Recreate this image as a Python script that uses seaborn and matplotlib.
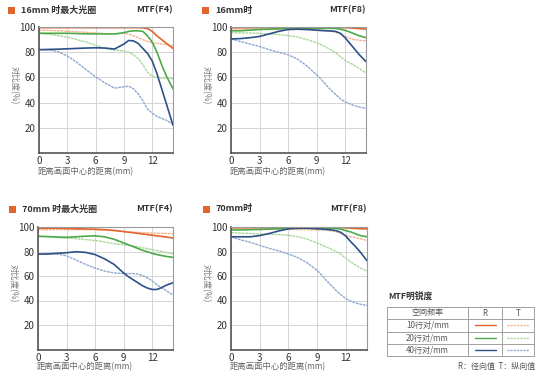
import matplotlib
matplotlib.use("Agg")
import matplotlib.pyplot as plt
import seaborn as sns
import pandas as pd
from matplotlib.patches import Rectangle

sns.set_theme(style="white")
plt.rcParams['font.family'] = ['Noto Sans CJK SC', 'DejaVu Sans']

# ---------------- data ----------------
X = [0, 1, 2, 3, 4, 5, 6, 7, 8, 9, 9.5, 10, 10.5, 11, 11.5, 12, 12.5, 13, 13.5, 14.2]

p1_r10 = [99.5, 99.5, 99.5, 99.5, 99.5, 99.5, 99.5, 99.5, 99.5, 99.5, 99.5, 99.5, 99.5, 99.3, 98.8, 96.5, 93, 90, 87, 83]
p1_t10 = [97.5, 97.3, 97, 96.6, 96.2, 95.8, 95.3, 94.8, 94.5, 95, 94.5, 93, 91.5, 90, 88.5, 87.5, 87, 86.5, 86, 85]
p1_r20 = [95, 95, 95, 95, 94.8, 94.6, 94.5, 94.5, 94.5, 95.5, 96.5, 97, 97, 96.5, 93, 88, 80, 70, 61, 51]
p1_t20 = [95, 94.3, 93.3, 92, 90, 88, 85.5, 83, 81.7, 81, 80, 78, 75, 70, 64, 61, 60, 59.5, 59.5, 59]
p1_r40 = [82, 82.2, 82.4, 82.7, 83, 83.3, 83.5, 83.3, 82.5, 86.5, 89.3, 89, 87, 83, 79, 73, 63, 51, 39, 22]
p1_t40 = [82, 81.8, 80.5, 77, 72, 66, 60.5, 55.5, 51.5, 52.5, 53, 51, 47, 41.5, 35, 31.5, 29, 27.5, 26, 23]

p2_r10 = [99.5, 99.5, 99.5, 99.5, 99.5, 99.5, 99.5, 99.5, 99.5, 99.5, 99.5, 99.5, 99.5, 99.5, 99.5, 99.5, 99.3, 99, 98.7, 98.3]
p2_t10 = [98.5, 98.5, 98.3, 98.2, 98, 98, 98, 98, 98, 97.8, 97.5, 97.2, 96.8, 96, 94.5, 92.5, 91, 90, 89.5, 89]
p2_r20 = [97, 97, 97.5, 98, 98.3, 98.6, 99, 99, 99, 99, 99, 99, 99, 98.8, 98.3, 97.3, 96, 94.5, 93, 91.5]
p2_t20 = [95.5, 95.3, 95.2, 95, 94.5, 94, 93.2, 92, 90, 87.5, 86, 84, 82, 79.5, 76.5, 73.5, 71.5, 69.5, 67, 63.5]
p2_r40 = [90.5, 90.8, 91.5, 92.5, 94.5, 96.5, 98, 98.3, 98, 97.5, 97.2, 97, 96.8, 96.5, 95, 91.5, 87, 82.5, 78, 72.5]
p2_t40 = [90.5, 88.5, 86.5, 84.5, 82, 80, 78, 74.5, 69, 62, 58.5, 54, 50, 46.5, 43, 40.5, 39, 37.5, 36.5, 35.5]

p3_r10 = [99, 99, 99, 98.8, 98.6, 98.4, 98.2, 97.8, 97.2, 96.3, 95.8, 95.3, 94.8, 94.3, 93.8, 93.3, 92.8, 92.3, 91.8, 91]
p3_t10 = [97.8, 97.8, 97.8, 97.8, 97.8, 97.8, 97.7, 97.4, 97, 96.3, 96, 95.8, 95.6, 95.4, 95.2, 95, 94.9, 94.8, 94.7, 94.5]
p3_r20 = [92.4, 92.2, 91.8, 91.6, 92, 92.5, 92.8, 92, 90, 87, 85.5, 84, 82.5, 81, 79.8, 78.5, 77.5, 76.7, 76, 75.2]
p3_t20 = [92.4, 92, 91.5, 91, 90.5, 89.8, 89, 87.8, 86.3, 85.5, 85, 84.5, 84, 83, 82.3, 81.5, 80.7, 80, 79.2, 78]
p3_r40 = [77.8, 78, 78.5, 79, 79.8, 79.3, 77.5, 74, 69.5, 62.5, 59.5, 57, 54.5, 52, 50.2, 49, 49, 50.5, 52.5, 54.5]
p3_t40 = [77.8, 78, 78, 76.5, 73, 69.5, 66.5, 64, 62.5, 62, 62, 62, 61.5, 60.5, 58.5, 56, 53, 50.5, 48, 44.5]

p4_r10 = [99.5, 99.5, 99.5, 99.5, 99.5, 99.5, 99.5, 99.5, 99.5, 99.5, 99.5, 99.5, 99.5, 99.5, 99.4, 99.3, 99, 98.8, 98.6, 98.5]
p4_t10 = [98.5, 98.5, 98.4, 98.3, 98.2, 98.1, 98, 98, 97.9, 97.7, 97.5, 97.3, 96.8, 96, 94.7, 93, 92, 91.3, 90.5, 89]
p4_r20 = [97.5, 97.6, 97.8, 98, 98.3, 98.6, 99, 99, 99, 99, 99, 99, 99, 98.8, 98.2, 97, 96, 94.5, 93, 92]
p4_t20 = [95.5, 95, 94.7, 94.3, 94, 93.8, 93.3, 92, 90, 86.8, 85.3, 83.5, 81.8, 80, 77.5, 74.5, 71.5, 69, 66.5, 64]
p4_r40 = [92, 92, 92, 93, 94.7, 96.8, 98.5, 99, 99, 98.5, 98.3, 98, 97.6, 97, 95.5, 92.5, 88, 84, 79.5, 72.5]
p4_t40 = [92, 89.5, 87.5, 85, 82.5, 80.5, 78, 75, 70.5, 64.5, 60.5, 56, 52, 48, 44.5, 41.5, 39.5, 38, 37, 36]

titles = ["16mm 时最大光圈", "16mm时", "70mm 时最大光圈", "70mm时"]
apertures = ["MTF(F4)", "MTF(F8)", "MTF(F4)", "MTF(F8)"]
x_ticks = [0, 3, 6, 9, 12]
y_ticks = [20, 40, 60, 80, 100]
freq_labels = ["10行对/mm", "20行对/mm", "40行对/mm"]
xlabel = "距离画面中心的距离(mm)"
ylabel = "对比度(%)"
legend_title = "MTF明锐度"
header = ["空间频率", "R", "T"]
footnote = "R：径向值  T：纵向值"

# ---------------- style ----------------
R_COLORS = ["#e2652e", "#4daa4a", "#2d5088"]
T_COLORS = ["#f2b48e", "#a9d79a", "#8fa9d0"]
T_DASH = (0, (2.0, 0.6))

W, H = 540, 372
fig = plt.figure(figsize=(W / 100, H / 100), dpi=100)

# axes boxes in pixel coords: left, top, right, bottom
boxes = [(39, 27, 173, 153), (231, 27, 366, 153),
         (38, 227, 173, 349.5), (231, 227, 367, 349.5)]
xlabel_y = [172, 172, 366.5, 366.5]
panels = [
    (p1_r10, p1_t10, p1_r20, p1_t20, p1_r40, p1_t40),
    (p2_r10, p2_t10, p2_r20, p2_t20, p2_r40, p2_t40),
    (p3_r10, p3_t10, p3_r20, p3_t20, p3_r40, p3_t40),
    (p4_r10, p4_t10, p4_r20, p4_t20, p4_r40, p4_t40),
]

axes = []
for (l, t, r, b), series in zip(boxes, panels):
    ax = fig.add_axes([l / W, (H - b) / H, (r - l) / W, (b - t) / H])
    axes.append(ax)
    ax.set_xlim(0, 14.2)
    ax.set_ylim(0, 100)
    ax.set_xticks(x_ticks)
    ax.set_yticks(y_ticks)
    ax.grid(True, color="#d4d4d4", linewidth=0.7)
    ax.set_axisbelow(True)
    ax.tick_params(length=0, labelsize=7, colors="#333333", pad=2.5)
    for side in ["left", "bottom"]:
        ax.spines[side].set_color("#555555")
        ax.spines[side].set_linewidth(1.2)
    for side in ["top", "right"]:
        ax.spines[side].set_color("#9a9a9a")
        ax.spines[side].set_linewidth(0.8)
    # T series first (lighter), then R on top
    for i in range(3):
        tvals = series[2 * i + 1]
        sns.lineplot(x=X, y=tvals, ax=ax, color=T_COLORS[i], linewidth=1.0,
                     linestyle=T_DASH, sort=False)
    for i in range(3):
        rvals = series[2 * i]
        sns.lineplot(x=X, y=rvals, ax=ax, color=R_COLORS[i], linewidth=1.2,
                     sort=False)
    ax.set_xlabel("")
    ax.set_ylabel("")

# overlay for pixel-positioned text and the legend table
ov = fig.add_axes([0, 0, 1, 1], zorder=10)
ov.set_xlim(0, W)
ov.set_ylim(H, 0)
ov.axis("off")
ov.patch.set_alpha(0)

title_pos = [(8, 10, 173), (202, 10, 366), (9, 209, 173), (203, 209, 367)]
for (sx, sy, rx), ttl, ap in zip(title_pos, titles, apertures):
    ov.add_patch(Rectangle((sx, sy - 3.5), 6.5, 7, color="#e2652e", lw=0))
    ov.text(sx + 13, sy, ttl, fontsize=6.5, fontweight="bold", color="#333333",
            va="center", ha="left")
    ov.text(rx, sy, ap, fontsize=6.5, fontweight="bold", color="#333333",
            va="center", ha="right")

for (l, t, r, b), xy in zip(boxes, xlabel_y):
    ov.text(l - 25, (t + b) / 2 - 5, ylabel, rotation=270, fontsize=6,
            color="#777777", va="center", ha="center")
    ov.text(l - 1, xy, xlabel, fontsize=6, color="#666666",
            va="center", ha="left")

# legend table
ov.text(388, 297, legend_title, fontsize=6.3, fontweight="bold",
        color="#333333", va="center", ha="left")
tx0, tx1 = 387, 534
col1, col2 = 468, 502
rows = [307, 319, 331.5, 343.5, 355.5]
lc = "#a0a0a0"
ov.plot([tx0, tx1, tx1, tx0, tx0], [rows[0], rows[0], rows[-1], rows[-1], rows[0]],
        color=lc, lw=0.7)
for yy in rows[1:-1]:
    ov.plot([tx0, tx1], [yy, yy], color=lc, lw=0.7)
for xx in (col1, col2):
    ov.plot([xx, xx], [rows[0], rows[-1]], color=lc, lw=0.7)
hy = (rows[0] + rows[1]) / 2
ov.text((tx0 + col1) / 2, hy, header[0], fontsize=5.8, color="#555555",
        ha="center", va="center")
ov.text((col1 + col2) / 2, hy, header[1], fontsize=5.8, color="#555555",
        ha="center", va="center")
ov.text((col2 + tx1) / 2, hy, header[2], fontsize=5.8, color="#555555",
        ha="center", va="center")
for i, lab in enumerate(freq_labels):
    ry = (rows[i + 1] + rows[i + 2]) / 2
    ov.text((tx0 + col1) / 2, ry, lab, fontsize=5.8, color="#555555",
            ha="center", va="center")
    ov.plot([475, 496], [ry, ry], color=R_COLORS[i], lw=1.0)
    ov.plot([507, 529], [ry, ry], color=T_COLORS[i], lw=1.0, linestyle=(0, (1.5, 0.8)))

ov.text(535, 366, footnote, fontsize=5.8, color="#555555", ha="right", va="center")

fig.savefig("out.png", dpi=100, facecolor="white")
